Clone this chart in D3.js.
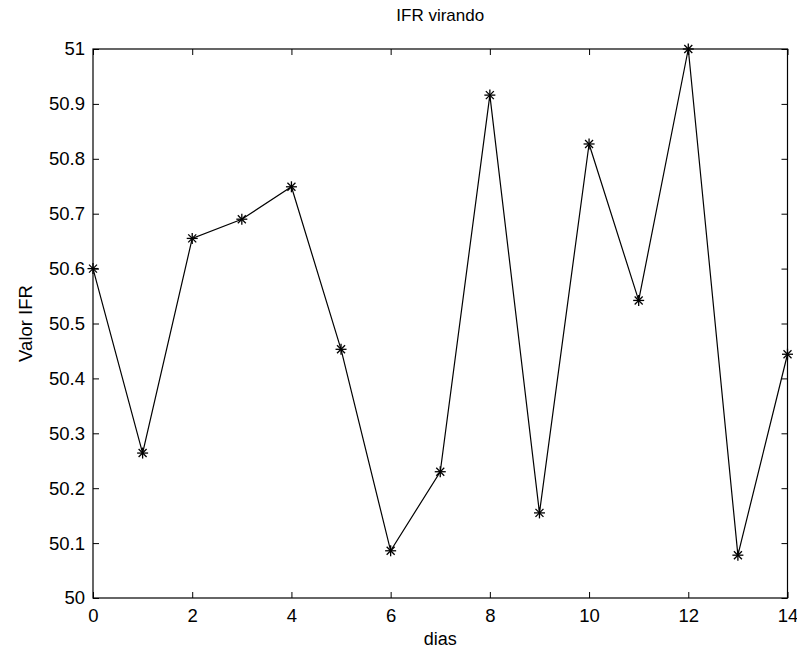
<!DOCTYPE html>
<html>
<head>
<meta charset="utf-8">
<script src="https://cdn.jsdelivr.net/npm/d3@7"></script>
<style>
  html, body { margin: 0; padding: 0; background: #fff; }
  svg { display: block; }
  text { font-family: "Liberation Sans", Arial, sans-serif; fill: #000; }
</style>
</head>
<body>
<svg id="chart" width="797" height="649"></svg>
<script>
// Daily IFR values
const days = [0, 1, 2, 3, 4, 5, 6, 7, 8, 9, 10, 11, 12, 13, 14];
const ifr = [50.600, 50.264, 50.655, 50.690, 50.749, 50.453, 50.086, 50.230,
             50.916, 50.155, 50.827, 50.542, 51.000, 50.078, 50.444];
const xTicks = [0, 2, 4, 6, 8, 10, 12, 14];
const yTicks = [50, 50.1, 50.2, 50.3, 50.4, 50.5, 50.6, 50.7, 50.8, 50.9, 51];

const svg = d3.select("#chart");
const plotLeft = 93, plotRight = 787.5, plotTop = 49, plotBottom = 598;

const x = d3.scaleLinear().domain([0, 14]).range([plotLeft, plotRight]);
const y = d3.scaleLinear().domain([50, 51]).range([plotBottom, plotTop]);

const tickLen = 6;
const fmt = d => d3.format("")(+d.toFixed(1));
const tickFont = 18.5;

// Bottom axis: labels below, inward ticks
const xAxis = d3.axisBottom(x).tickValues(xTicks).tickSize(-tickLen).tickFormat(fmt);
const gx = svg.append("g").attr("transform", `translate(0,${plotBottom})`).call(xAxis);
// Left axis
const yAxis = d3.axisLeft(y).tickValues(yTicks).tickSize(-tickLen).tickPadding(tickLen + 2).tickFormat(fmt);
const gy = svg.append("g").attr("transform", `translate(${plotLeft},0)`).call(yAxis);
// Top and right mirrored ticks (box)
const gt = svg.append("g").attr("transform", `translate(0,${plotTop})`)
  .call(d3.axisTop(x).tickValues(xTicks).tickSize(-tickLen).tickFormat(""));
const gr = svg.append("g").attr("transform", `translate(${plotRight},0)`)
  .call(d3.axisRight(y).tickValues(yTicks).tickSize(-tickLen).tickFormat(""));

[gx, gy, gt, gr].forEach(g => {
  g.select(".domain").remove();
  g.selectAll(".tick line").attr("stroke", "#000").attr("stroke-width", 1);
  g.selectAll("text").attr("font-size", tickFont).attr("font-family", "Liberation Sans, Arial, sans-serif").attr("fill", "#000");
});
gx.selectAll("text").attr("y", 24).attr("dy", 0);

// Box
svg.append("rect")
  .attr("x", plotLeft).attr("y", plotTop)
  .attr("width", plotRight - plotLeft).attr("height", plotBottom - plotTop)
  .attr("fill", "none").attr("stroke", "#000").attr("stroke-width", 1.2);

// Line
const data = days.map((d, i) => ({ d, v: ifr[i] }));
svg.append("path")
  .datum(data)
  .attr("fill", "none")
  .attr("stroke", "#000")
  .attr("stroke-width", 1.2)
  .attr("d", d3.line().x(p => x(p.d)).y(p => y(p.v)));

// Asterisk markers
const r = 5.5, rd = 4;
const markers = svg.append("g").selectAll("g").data(data).join("g")
  .attr("transform", p => `translate(${x(p.d)},${y(p.v)})`)
  .attr("stroke", "#000").attr("stroke-width", 1.3);
markers.append("line").attr("x1", -r).attr("x2", r).attr("y1", 0).attr("y2", 0);
markers.append("line").attr("x1", 0).attr("x2", 0).attr("y1", -r).attr("y2", r);
markers.append("line").attr("x1", -rd).attr("x2", rd).attr("y1", -rd).attr("y2", rd);
markers.append("line").attr("x1", -rd).attr("x2", rd).attr("y1", rd).attr("y2", -rd);

// Title and axis labels
svg.append("text").attr("x", (plotLeft + plotRight) / 2).attr("y", 21)
  .attr("text-anchor", "middle").attr("font-size", 17).text("IFR virando");
svg.append("text").attr("x", (plotLeft + plotRight) / 2).attr("y", 645)
  .attr("text-anchor", "middle").attr("font-size", 18).text("dias");
svg.append("text")
  .attr("transform", `translate(32,${(plotTop + plotBottom) / 2}) rotate(-90)`)
  .attr("text-anchor", "middle").attr("font-size", 18.5).text("Valor IFR");
</script>
</body>
</html>
